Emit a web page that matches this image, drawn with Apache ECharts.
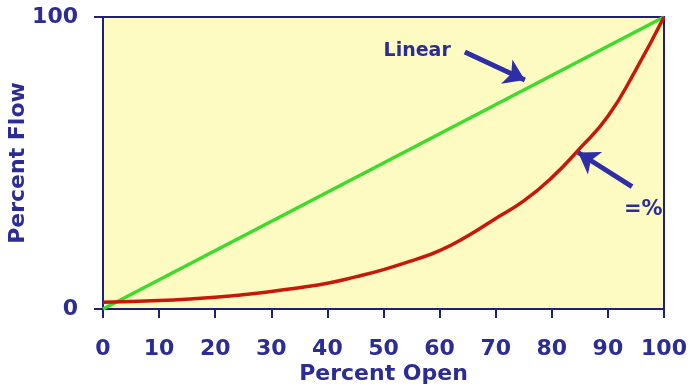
<!DOCTYPE html>
<html>
<head>
<meta charset="utf-8">
<script src="https://cdn.jsdelivr.net/npm/echarts@6/dist/echarts.min.js"></script>
<style>
  html, body { margin: 0; padding: 0; background: #fff; }
  #chart { width: 693px; height: 392px; }
</style>
</head>
<body>
<div id="chart"></div>
<script>
// valve characteristic curves
var openPct = [0, 10, 20, 30, 35, 40, 45, 50, 55, 60, 65, 70, 75, 80, 85, 90, 95, 100]
var eqPctFlow = [2.3, 2.9, 4.0, 6.0, 7.3, 8.8, 11, 13.5, 16.5, 20, 25, 31, 37, 45, 55, 66, 82, 100]
var linOpen = [0, 100]
var linFlow = [0, 100]
var xTicks = [0, 10, 20, 30, 40, 50, 60, 70, 80, 90, 100]

// annotation arrows: [tailX, tailY, headX, headY] in data units
var linearArrow = [64.5, 88, 75.2, 78.4]
var eqArrow = [94.3, 41.9, 84.7, 53.6]
var linearLabelAt = [56.0, 88.3]
var eqLabelAt = [96.3, 34]

var navy = '#1f1f75'
var textBlue = '#2c2c96'
var arrowBlue = '#2e2ea6'
var font = 'DejaVu Sans'

var myChart = echarts.init(document.getElementById('chart'))

function pairs(xs, ys) {
  return xs.map(function (x, i) { return [x, ys[i]] })
}

function arrowLine(a) {
  return [{coord: [a[0], a[1]]}, {coord: [a[2], a[3]]}]
}

var option = {
  animation: false,
  grid: {
    left: 103,
    right: 29,
    top: 17,
    bottom: 83,
    containLabel: false,
    outerBoundsMode: 'none',
    show: true,
    backgroundColor: '#fdfbc2',
    borderColor: navy,
    borderWidth: 2
  },
  xAxis: {
    type: 'value',
    min: 0,
    max: 100,
    interval: 10,
    name: 'Percent Open',
    nameLocation: 'middle',
    nameGap: 54,
    nameMoveOverlap: false,
    nameTextStyle: {color: textBlue, fontFamily: font, fontWeight: 'bold', fontSize: 22},
    axisLine: {lineStyle: {color: navy, width: 2}},
    axisTick: {show: true, inside: false, length: 9, lineStyle: {color: navy, width: 2}},
    axisLabel: {
      margin: 29,
      color: textBlue,
      fontFamily: font,
      fontWeight: 'bold',
      fontSize: 22,
      formatter: function (v) { return xTicks.indexOf(v) >= 0 ? String(v) : '' }
    },
    splitLine: {show: false}
  },
  yAxis: {
    type: 'value',
    min: 0,
    max: 100,
    interval: 100,
    name: 'Percent Flow',
    nameLocation: 'middle',
    nameGap: 74,
    nameMoveOverlap: false,
    nameTextStyle: {color: textBlue, fontFamily: font, fontWeight: 'bold', fontSize: 22},
    axisLine: {show: true, lineStyle: {color: navy, width: 2}},
    axisTick: {show: true, inside: false, length: 9, lineStyle: {color: navy, width: 2}},
    axisLabel: {margin: 25, color: textBlue, fontFamily: font, fontWeight: 'bold', fontSize: 22},
    splitLine: {show: false}
  },
  series: [
    {
      name: 'Linear',
      type: 'line',
      showSymbol: false,
      data: pairs(linOpen, linFlow),
      lineStyle: {color: '#3ddc2a', width: 3.5},
      z: 3
    },
    {
      name: '=%',
      type: 'line',
      showSymbol: false,
      smooth: 0.5,
      data: pairs(openPct, eqPctFlow),
      lineStyle: {color: '#c81808', width: 3.5},
      z: 3,
      markLine: {
        silent: true,
        symbol: ['none', 'arrow'],
        symbolSize: 20,
        lineStyle: {color: arrowBlue, width: 5, type: 'solid'},
        itemStyle: {color: arrowBlue},
        label: {show: false},
        data: [arrowLine(linearArrow), arrowLine(eqArrow)]
      },
      markPoint: {
        silent: true,
        symbol: 'circle',
        symbolSize: 0,
        label: {
          show: true,
          position: 'inside',
          color: textBlue,
          fontFamily: font,
          fontWeight: 'bold'
        },
        data: [
          {coord: linearLabelAt, value: 'Linear', label: {formatter: 'Linear', fontSize: 19}},
          {coord: eqLabelAt, value: '=%', label: {formatter: '=%', fontSize: 21}}
        ]
      }
    }
  ]
}
myChart.setOption(option)
</script>
</body>
</html>
